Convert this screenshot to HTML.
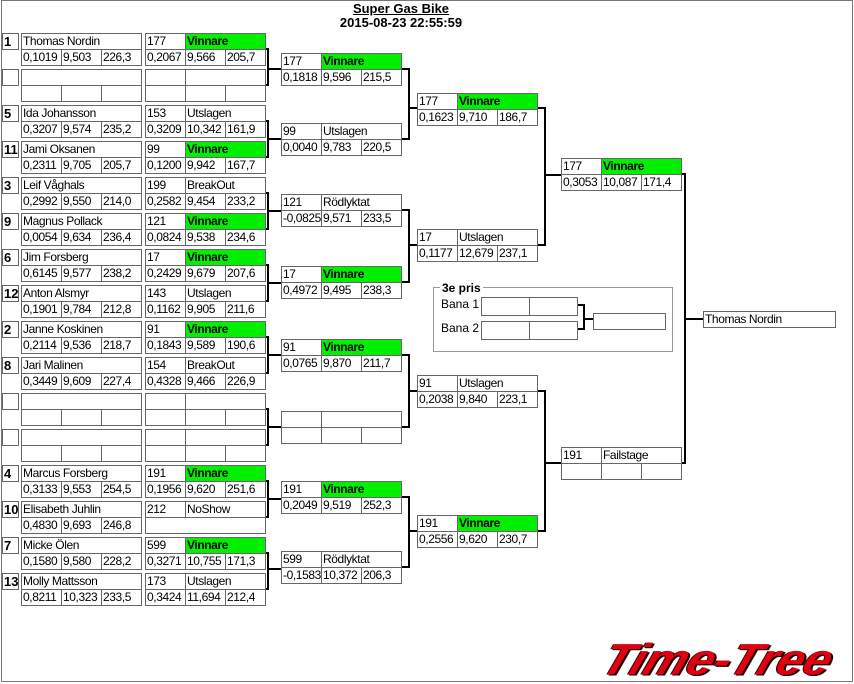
<!DOCTYPE html>
<html><head><meta charset="utf-8"><style>
body{margin:0;width:854px;height:684px;background:#fff;position:relative;overflow:hidden;font-family:"Liberation Sans",sans-serif;}
.frame{position:absolute;left:1px;top:0;width:852px;height:682px;border:1px solid #777;box-sizing:border-box;}
.c{position:absolute;border:1px solid #666;box-sizing:border-box;height:17px;font-size:12px;letter-spacing:-0.4px;line-height:15px;padding-left:1px;background:#fff;white-space:nowrap;overflow:hidden;color:#000;}
.g{background:#00f000;font-weight:bold;}
.s{position:absolute;border:1px solid #666;box-sizing:border-box;width:17px;height:17px;font-size:13px;font-weight:bold;line-height:15px;padding-left:1px;background:#fff;}
.t{position:absolute;font-weight:bold;font-size:13px;text-align:center;width:854px;left:0;}
svg{position:absolute;left:0;top:0;}
</style></head><body>
<div class="frame"></div>
<div class="t" style="top:1px;left:-26px"><u>Super Gas Bike</u></div>
<div class="t" style="top:15px;left:-26px">2015-08-23 22:55:59</div>

<svg width="854" height="684">
<g stroke="#000" stroke-width="2" fill="none">
<path d="M265 49H268V85H265M268 69H281"/>
<path d="M265 121H268V157H265M268 139H281"/>
<path d="M265 193H268V229H265M268 211H281"/>
<path d="M265 265H268V301H265M268 283H281"/>
<path d="M265 337H268V373H265M268 355H281"/>
<path d="M265 409H268V445H265M268 427H281"/>
<path d="M265 481H268V517H265M268 499H281"/>
<path d="M265 553H268V589H265M268 569H281"/>
<path d="M401 69H409V139H401M409 108H417"/>
<path d="M401 210H409V282H401M409 245H417"/>
<path d="M401 355H409V427H401M409 391H417"/>
<path d="M401 497H409V567H401M409 531H417"/>
<path d="M537 108H545V245H537M545 175H561"/>
<path d="M537 391H545V531H537M545 463H561"/>
<path d="M681 174H685V463H681M685 319H703"/>
<path d="M577 305H584V329H577M584 319H593"/>
</g>
<rect x="433.5" y="287.5" width="239" height="64" fill="none" stroke="#999"/>
</svg>
<div style="position:absolute;left:440px;top:281px;background:#fff;padding:0 2px;font-size:12px;font-weight:bold">3e pris</div>
<div style="position:absolute;left:441px;top:297px;font-size:12px">Bana 1</div>
<div style="position:absolute;left:441px;top:321px;font-size:12px">Bana 2</div>
<div class="c" style="left:481px;top:297px;width:49px;height:19px"></div><div class="c" style="left:529px;top:297px;width:49px;height:19px"></div>
<div class="c" style="left:481px;top:321px;width:49px;height:19px"></div><div class="c" style="left:529px;top:321px;width:49px;height:19px"></div>
<div class="c" style="left:593px;top:313px;width:73px"></div>

<!-- col1 -->
<div class="s" style="left:2px;top:33px">1</div><div class="c" style="left:21px;top:33px;width:121px">Thomas Nordin</div><div class="c" style="left:21px;top:49px;width:41px">0,1019</div><div class="c" style="left:61px;top:49px;width:41px">9,503</div><div class="c" style="left:101px;top:49px;width:41px">226,3</div>
<div class="s" style="left:2px;top:69px"></div><div class="c" style="left:21px;top:69px;width:121px"></div><div class="c" style="left:21px;top:85px;width:41px"></div><div class="c" style="left:61px;top:85px;width:41px"></div><div class="c" style="left:101px;top:85px;width:41px"></div>
<div class="s" style="left:2px;top:105px">5</div><div class="c" style="left:21px;top:105px;width:121px">Ida Johansson</div><div class="c" style="left:21px;top:121px;width:41px">0,3207</div><div class="c" style="left:61px;top:121px;width:41px">9,574</div><div class="c" style="left:101px;top:121px;width:41px">235,2</div>
<div class="s" style="left:2px;top:141px">11</div><div class="c" style="left:21px;top:141px;width:121px">Jami Oksanen</div><div class="c" style="left:21px;top:157px;width:41px">0,2311</div><div class="c" style="left:61px;top:157px;width:41px">9,705</div><div class="c" style="left:101px;top:157px;width:41px">205,7</div>
<div class="s" style="left:2px;top:177px">3</div><div class="c" style="left:21px;top:177px;width:121px">Leif Våghals</div><div class="c" style="left:21px;top:193px;width:41px">0,2992</div><div class="c" style="left:61px;top:193px;width:41px">9,550</div><div class="c" style="left:101px;top:193px;width:41px">214,0</div>
<div class="s" style="left:2px;top:213px">9</div><div class="c" style="left:21px;top:213px;width:121px">Magnus Pollack</div><div class="c" style="left:21px;top:229px;width:41px">0,0054</div><div class="c" style="left:61px;top:229px;width:41px">9,634</div><div class="c" style="left:101px;top:229px;width:41px">236,4</div>
<div class="s" style="left:2px;top:249px">6</div><div class="c" style="left:21px;top:249px;width:121px">Jim Forsberg</div><div class="c" style="left:21px;top:265px;width:41px">0,6145</div><div class="c" style="left:61px;top:265px;width:41px">9,577</div><div class="c" style="left:101px;top:265px;width:41px">238,2</div>
<div class="s" style="left:2px;top:285px">12</div><div class="c" style="left:21px;top:285px;width:121px">Anton Alsmyr</div><div class="c" style="left:21px;top:301px;width:41px">0,1901</div><div class="c" style="left:61px;top:301px;width:41px">9,784</div><div class="c" style="left:101px;top:301px;width:41px">212,8</div>
<div class="s" style="left:2px;top:321px">2</div><div class="c" style="left:21px;top:321px;width:121px">Janne Koskinen</div><div class="c" style="left:21px;top:337px;width:41px">0,2114</div><div class="c" style="left:61px;top:337px;width:41px">9,536</div><div class="c" style="left:101px;top:337px;width:41px">218,7</div>
<div class="s" style="left:2px;top:357px">8</div><div class="c" style="left:21px;top:357px;width:121px">Jari Malinen</div><div class="c" style="left:21px;top:373px;width:41px">0,3449</div><div class="c" style="left:61px;top:373px;width:41px">9,609</div><div class="c" style="left:101px;top:373px;width:41px">227,4</div>
<div class="s" style="left:2px;top:393px"></div><div class="c" style="left:21px;top:393px;width:121px"></div><div class="c" style="left:21px;top:409px;width:41px"></div><div class="c" style="left:61px;top:409px;width:41px"></div><div class="c" style="left:101px;top:409px;width:41px"></div>
<div class="s" style="left:2px;top:429px"></div><div class="c" style="left:21px;top:429px;width:121px"></div><div class="c" style="left:21px;top:445px;width:41px"></div><div class="c" style="left:61px;top:445px;width:41px"></div><div class="c" style="left:101px;top:445px;width:41px"></div>
<div class="s" style="left:2px;top:465px">4</div><div class="c" style="left:21px;top:465px;width:121px">Marcus Forsberg</div><div class="c" style="left:21px;top:481px;width:41px">0,3133</div><div class="c" style="left:61px;top:481px;width:41px">9,553</div><div class="c" style="left:101px;top:481px;width:41px">254,5</div>
<div class="s" style="left:2px;top:501px">10</div><div class="c" style="left:21px;top:501px;width:121px">Elisabeth Juhlin</div><div class="c" style="left:21px;top:517px;width:41px">0,4830</div><div class="c" style="left:61px;top:517px;width:41px">9,693</div><div class="c" style="left:101px;top:517px;width:41px">246,8</div>
<div class="s" style="left:2px;top:537px">7</div><div class="c" style="left:21px;top:537px;width:121px">Micke Ölen</div><div class="c" style="left:21px;top:553px;width:41px">0,1580</div><div class="c" style="left:61px;top:553px;width:41px">9,580</div><div class="c" style="left:101px;top:553px;width:41px">228,2</div>
<div class="s" style="left:2px;top:573px">13</div><div class="c" style="left:21px;top:573px;width:121px">Molly Mattsson</div><div class="c" style="left:21px;top:589px;width:41px">0,8211</div><div class="c" style="left:61px;top:589px;width:41px">10,323</div><div class="c" style="left:101px;top:589px;width:41px">233,5</div>

<!-- col2 -->
<div class="c" style="left:145px;top:33px;width:41px">177</div><div class="c g" style="left:185px;top:33px;width:81px">Vinnare</div><div class="c" style="left:145px;top:49px;width:41px">0,2067</div><div class="c" style="left:185px;top:49px;width:41px">9,566</div><div class="c" style="left:225px;top:49px;width:41px">205,7</div>
<div class="c" style="left:145px;top:69px;width:41px"></div><div class="c" style="left:185px;top:69px;width:81px"></div><div class="c" style="left:145px;top:85px;width:41px"></div><div class="c" style="left:185px;top:85px;width:41px"></div><div class="c" style="left:225px;top:85px;width:41px"></div>
<div class="c" style="left:145px;top:105px;width:41px">153</div><div class="c" style="left:185px;top:105px;width:81px">Utslagen</div><div class="c" style="left:145px;top:121px;width:41px">0,3209</div><div class="c" style="left:185px;top:121px;width:41px">10,342</div><div class="c" style="left:225px;top:121px;width:41px">161,9</div>
<div class="c" style="left:145px;top:141px;width:41px">99</div><div class="c g" style="left:185px;top:141px;width:81px">Vinnare</div><div class="c" style="left:145px;top:157px;width:41px">0,1200</div><div class="c" style="left:185px;top:157px;width:41px">9,942</div><div class="c" style="left:225px;top:157px;width:41px">167,7</div>
<div class="c" style="left:145px;top:177px;width:41px">199</div><div class="c" style="left:185px;top:177px;width:81px">BreakOut</div><div class="c" style="left:145px;top:193px;width:41px">0,2582</div><div class="c" style="left:185px;top:193px;width:41px">9,454</div><div class="c" style="left:225px;top:193px;width:41px">233,2</div>
<div class="c" style="left:145px;top:213px;width:41px">121</div><div class="c g" style="left:185px;top:213px;width:81px">Vinnare</div><div class="c" style="left:145px;top:229px;width:41px">0,0824</div><div class="c" style="left:185px;top:229px;width:41px">9,538</div><div class="c" style="left:225px;top:229px;width:41px">234,6</div>
<div class="c" style="left:145px;top:249px;width:41px">17</div><div class="c g" style="left:185px;top:249px;width:81px">Vinnare</div><div class="c" style="left:145px;top:265px;width:41px">0,2429</div><div class="c" style="left:185px;top:265px;width:41px">9,679</div><div class="c" style="left:225px;top:265px;width:41px">207,6</div>
<div class="c" style="left:145px;top:285px;width:41px">143</div><div class="c" style="left:185px;top:285px;width:81px">Utslagen</div><div class="c" style="left:145px;top:301px;width:41px">0,1162</div><div class="c" style="left:185px;top:301px;width:41px">9,905</div><div class="c" style="left:225px;top:301px;width:41px">211,6</div>
<div class="c" style="left:145px;top:321px;width:41px">91</div><div class="c g" style="left:185px;top:321px;width:81px">Vinnare</div><div class="c" style="left:145px;top:337px;width:41px">0,1843</div><div class="c" style="left:185px;top:337px;width:41px">9,589</div><div class="c" style="left:225px;top:337px;width:41px">190,6</div>
<div class="c" style="left:145px;top:357px;width:41px">154</div><div class="c" style="left:185px;top:357px;width:81px">BreakOut</div><div class="c" style="left:145px;top:373px;width:41px">0,4328</div><div class="c" style="left:185px;top:373px;width:41px">9,466</div><div class="c" style="left:225px;top:373px;width:41px">226,9</div>
<div class="c" style="left:145px;top:393px;width:41px"></div><div class="c" style="left:185px;top:393px;width:81px"></div><div class="c" style="left:145px;top:409px;width:41px"></div><div class="c" style="left:185px;top:409px;width:41px"></div><div class="c" style="left:225px;top:409px;width:41px"></div>
<div class="c" style="left:145px;top:429px;width:41px"></div><div class="c" style="left:185px;top:429px;width:81px"></div><div class="c" style="left:145px;top:445px;width:41px"></div><div class="c" style="left:185px;top:445px;width:41px"></div><div class="c" style="left:225px;top:445px;width:41px"></div>
<div class="c" style="left:145px;top:465px;width:41px">191</div><div class="c g" style="left:185px;top:465px;width:81px">Vinnare</div><div class="c" style="left:145px;top:481px;width:41px">0,1956</div><div class="c" style="left:185px;top:481px;width:41px">9,620</div><div class="c" style="left:225px;top:481px;width:41px">251,6</div>
<div class="c" style="left:145px;top:501px;width:41px">212</div><div class="c" style="left:185px;top:501px;width:81px">NoShow</div><div class="c" style="left:145px;top:517px;width:121px"></div>
<div class="c" style="left:145px;top:537px;width:41px">599</div><div class="c g" style="left:185px;top:537px;width:81px">Vinnare</div><div class="c" style="left:145px;top:553px;width:41px">0,3271</div><div class="c" style="left:185px;top:553px;width:41px">10,755</div><div class="c" style="left:225px;top:553px;width:41px">171,3</div>
<div class="c" style="left:145px;top:573px;width:41px">173</div><div class="c" style="left:185px;top:573px;width:81px">Utslagen</div><div class="c" style="left:145px;top:589px;width:41px">0,3424</div><div class="c" style="left:185px;top:589px;width:41px">11,694</div><div class="c" style="left:225px;top:589px;width:41px">212,4</div>

<!-- col3 -->
<div class="c" style="left:281px;top:53px;width:41px">177</div><div class="c g" style="left:321px;top:53px;width:81px">Vinnare</div><div class="c" style="left:281px;top:69px;width:41px">0,1818</div><div class="c" style="left:321px;top:69px;width:41px">9,596</div><div class="c" style="left:361px;top:69px;width:41px">215,5</div>
<div class="c" style="left:281px;top:123px;width:41px">99</div><div class="c" style="left:321px;top:123px;width:81px">Utslagen</div><div class="c" style="left:281px;top:139px;width:41px">0,0040</div><div class="c" style="left:321px;top:139px;width:41px">9,783</div><div class="c" style="left:361px;top:139px;width:41px">220,5</div>
<div class="c" style="left:281px;top:194px;width:41px">121</div><div class="c" style="left:321px;top:194px;width:81px">Rödlyktat</div><div class="c" style="left:281px;top:210px;width:41px">-0,0825</div><div class="c" style="left:321px;top:210px;width:41px">9,571</div><div class="c" style="left:361px;top:210px;width:41px">233,5</div>
<div class="c" style="left:281px;top:266px;width:41px">17</div><div class="c g" style="left:321px;top:266px;width:81px">Vinnare</div><div class="c" style="left:281px;top:282px;width:41px">0,4972</div><div class="c" style="left:321px;top:282px;width:41px">9,495</div><div class="c" style="left:361px;top:282px;width:41px">238,3</div>
<div class="c" style="left:281px;top:339px;width:41px">91</div><div class="c g" style="left:321px;top:339px;width:81px">Vinnare</div><div class="c" style="left:281px;top:355px;width:41px">0,0765</div><div class="c" style="left:321px;top:355px;width:41px">9,870</div><div class="c" style="left:361px;top:355px;width:41px">211,7</div>
<div class="c" style="left:281px;top:411px;width:41px"></div><div class="c" style="left:321px;top:411px;width:81px"></div><div class="c" style="left:281px;top:427px;width:41px"></div><div class="c" style="left:321px;top:427px;width:41px"></div><div class="c" style="left:361px;top:427px;width:41px"></div>
<div class="c" style="left:281px;top:481px;width:41px">191</div><div class="c g" style="left:321px;top:481px;width:81px">Vinnare</div><div class="c" style="left:281px;top:497px;width:41px">0,2049</div><div class="c" style="left:321px;top:497px;width:41px">9,519</div><div class="c" style="left:361px;top:497px;width:41px">252,3</div>
<div class="c" style="left:281px;top:551px;width:41px">599</div><div class="c" style="left:321px;top:551px;width:81px">Rödlyktat</div><div class="c" style="left:281px;top:567px;width:41px">-0,1583</div><div class="c" style="left:321px;top:567px;width:41px">10,372</div><div class="c" style="left:361px;top:567px;width:41px">206,3</div>

<!-- col4 -->
<div class="c" style="left:417px;top:93px;width:41px">177</div><div class="c g" style="left:457px;top:93px;width:81px">Vinnare</div><div class="c" style="left:417px;top:109px;width:41px">0,1623</div><div class="c" style="left:457px;top:109px;width:41px">9,710</div><div class="c" style="left:497px;top:109px;width:41px">186,7</div>
<div class="c" style="left:417px;top:229px;width:41px">17</div><div class="c" style="left:457px;top:229px;width:81px">Utslagen</div><div class="c" style="left:417px;top:245px;width:41px">0,1177</div><div class="c" style="left:457px;top:245px;width:41px">12,679</div><div class="c" style="left:497px;top:245px;width:41px">237,1</div>
<div class="c" style="left:417px;top:375px;width:41px">91</div><div class="c" style="left:457px;top:375px;width:81px">Utslagen</div><div class="c" style="left:417px;top:391px;width:41px">0,2038</div><div class="c" style="left:457px;top:391px;width:41px">9,840</div><div class="c" style="left:497px;top:391px;width:41px">223,1</div>
<div class="c" style="left:417px;top:515px;width:41px">191</div><div class="c g" style="left:457px;top:515px;width:81px">Vinnare</div><div class="c" style="left:417px;top:531px;width:41px">0,2556</div><div class="c" style="left:457px;top:531px;width:41px">9,620</div><div class="c" style="left:497px;top:531px;width:41px">230,7</div>

<!-- col5 -->
<div class="c" style="left:561px;top:158px;width:41px">177</div><div class="c g" style="left:601px;top:158px;width:81px">Vinnare</div><div class="c" style="left:561px;top:174px;width:41px">0,3053</div><div class="c" style="left:601px;top:174px;width:41px">10,087</div><div class="c" style="left:641px;top:174px;width:41px">171,4</div>
<div class="c" style="left:561px;top:447px;width:41px">191</div><div class="c" style="left:601px;top:447px;width:81px">Failstage</div><div class="c" style="left:561px;top:463px;width:41px"></div><div class="c" style="left:601px;top:463px;width:41px"></div><div class="c" style="left:641px;top:463px;width:41px"></div>

<div class="c" style="left:703px;top:311px;width:133px">Thomas Nordin</div>

<div style="position:absolute;left:612px;top:638px;font-size:40px;font-weight:900;font-style:italic;color:#e00010;transform-origin:0 0;transform:skewX(-20deg) scale(1.2,1.1);letter-spacing:0px;line-height:40px;text-shadow:1px 1px 0 #000,-1px 0 0 #400,2px 1px 0 #300;">Time-Tree</div>
</body></html>
